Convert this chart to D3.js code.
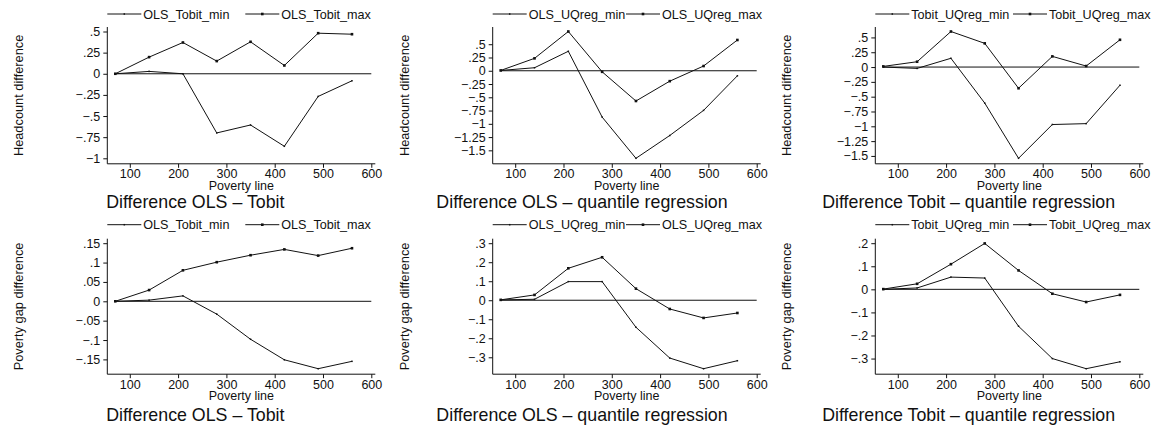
<!DOCTYPE html>
<html>
<head>
<meta charset="utf-8">
<script src="https://cdnjs.cloudflare.com/ajax/libs/d3/7.8.5/d3.min.js"></script>
<style>
  body { margin: 0; background: #fff; }
  svg { display: block; font-family: "Liberation Sans", Arial, sans-serif; }
</style>
</head>
<body>
<div id="chart"></div>
<script>
// poverty lines on the x axis
var povertyLines = [70, 140, 210, 280, 350, 420, 490, 560];
var xTicks = [100, 200, 300, 400, 500, 600];

// headcount differences
var hcOlsTobitMin   = [0, 0.028, 0.0, -0.70, -0.606, -0.858, -0.268, -0.083];
var hcOlsTobitMax   = [0, 0.197, 0.37, 0.15, 0.378, 0.098, 0.48, 0.468];
var hcOlsUqregMin   = [0.006, 0.057, 0.367, -0.873, -1.65, -1.22, -0.747, -0.095];
var hcOlsUqregMax   = [0.006, 0.234, 0.74, -0.02, -0.57, -0.196, 0.089, 0.58];
var hcTobitUqregMin = [0, -0.023, 0.148, -0.608, -1.54, -0.97, -0.955, -0.307];
var hcTobitUqregMax = [0.011, 0.09, 0.60, 0.40, -0.358, 0.18, 0.017, 0.46];

// poverty gap differences
var pgOlsTobitMin   = [0, 0.003, 0.014, -0.033, -0.098, -0.151, -0.174, -0.155];
var pgOlsTobitMax   = [0, 0.029, 0.080, 0.101, 0.119, 0.134, 0.118, 0.137];
var pgOlsUqregMin   = [0.002, 0.005, 0.098, 0.098, -0.142, -0.304, -0.36, -0.318];
var pgOlsUqregMax   = [0.002, 0.028, 0.168, 0.226, 0.061, -0.046, -0.093, -0.067];
var pgTobitUqregMin = [0, 0.006, 0.053, 0.049, -0.16, -0.30, -0.344, -0.314];
var pgTobitUqregMax = [0.001, 0.024, 0.109, 0.199, 0.082, -0.019, -0.055, -0.024];

// y tick values
var hcTicksA = [0.5, 0.25, 0, -0.25, -0.5, -0.75, -1];
var hcTicksB = [0.5, 0.25, 0, -0.25, -0.5, -0.75, -1, -1.25, -1.5];
var pgTicksA = [0.15, 0.1, 0.05, 0, -0.05, -0.1, -0.15];
var pgTicksB = [0.3, 0.2, 0.1, 0, -0.1, -0.2, -0.3];
var pgTicksC = [0.2, 0.1, 0, -0.1, -0.2, -0.3];

var subtitles = ["Difference OLS \u2013 Tobit", "Difference OLS \u2013 quantile regression", "Difference Tobit \u2013 quantile regression"];
var legendNames = [["OLS_Tobit_min", "OLS_Tobit_max"], ["OLS_UQreg_min", "OLS_UQreg_max"], ["Tobit_UQreg_min", "Tobit_UQreg_max"]];
var yTitles = ["Headcount difference", "Poverty gap difference"];

var panels = [
  { row: 0, col: 0, min: hcOlsTobitMin,   max: hcOlsTobitMax,   ticks: hcTicksA },
  { row: 0, col: 1, min: hcOlsUqregMin,   max: hcOlsUqregMax,   ticks: hcTicksB },
  { row: 0, col: 2, min: hcTobitUqregMin, max: hcTobitUqregMax, ticks: hcTicksB },
  { row: 1, col: 0, min: pgOlsTobitMin,   max: pgOlsTobitMax,   ticks: pgTicksA },
  { row: 1, col: 1, min: pgOlsUqregMin,   max: pgOlsUqregMax,   ticks: pgTicksB },
  { row: 1, col: 2, min: pgTobitUqregMin, max: pgTobitUqregMax, ticks: pgTicksC }
];

// layout
var width = 1160, height = 428;
var cellW = width / 3;
var axisX = [107.3, 492.7, 875.3];      // y axis position of each column
var yTitleX = [18.5, 404.3, 787];
var legend2 = [138, 133.3, 137.7];     // offset of the 2nd legend key
var rows = [
  { top: 31.5,  bottom: 158.3, legendY: 14,    xTitleY: 189.5, subY: 208.3 },
  { top: 243.2, bottom: 368.7, legendY: 224.7, xTitleY: 400.3, subY: 420.5 }
];

// stata style numbers: .5, -.25, 0
function fmt(v) {
  var s = String(Math.abs(+v.toFixed(4))).replace(/^0\./, ".");
  return (v < 0 ? "\u2212" : "") + s;
}

var svg = d3.select("#chart").append("svg")
  .attr("width", width)
  .attr("height", height);

var ink = "#111";

panels.forEach(function(p) {
  var r = rows[p.row], ax = axisX[p.col];
  var g = svg.append("g");

  var x = d3.scaleLinear()
    .domain([70, 600])
    .range([ax + 8, ax + 264]);

  var ext = d3.extent(p.min.concat(p.max, p.ticks));
  var y = d3.scaleLinear()
    .domain(ext)
    .range([r.bottom, r.top]);

  var axTop = r.top - 4.5, axBottom = r.bottom + 5.5;

  // y axis
  var yAxis = g.append("g")
    .attr("transform", "translate(" + ax + ",0)")
    .call(d3.axisLeft(y).tickValues(p.ticks).tickFormat(fmt).tickSize(4).tickPadding(3));
  yAxis.select(".domain").remove();
  yAxis.selectAll("line").attr("stroke", ink);
  yAxis.selectAll("text").attr("font-size", 12.5).attr("fill", ink)
    .attr("font-family", "Liberation Sans, Arial, sans-serif");
  g.append("line")
    .attr("x1", ax).attr("x2", ax)
    .attr("y1", axTop).attr("y2", axBottom)
    .attr("stroke", ink);

  // x axis
  var xAxis = g.append("g")
    .attr("transform", "translate(0," + axBottom + ")")
    .call(d3.axisBottom(x).tickValues(xTicks).tickSize(4).tickPadding(1.5));
  xAxis.select(".domain").remove();
  xAxis.selectAll("line").attr("stroke", ink);
  xAxis.selectAll("text").attr("font-size", 12.5).attr("fill", ink)
    .attr("font-family", "Liberation Sans, Arial, sans-serif");
  g.append("line")
    .attr("x1", ax).attr("x2", x(600) + 4)
    .attr("y1", axBottom).attr("y2", axBottom)
    .attr("stroke", ink);

  // zero line
  g.append("line")
    .attr("x1", x(70)).attr("x2", x(600))
    .attr("y1", y(0)).attr("y2", y(0))
    .attr("stroke", ink).attr("stroke-width", 1);

  var line = d3.line()
    .x(function(d, i) { return x(povertyLines[i]); })
    .y(function(d) { return y(d); });

  [p.min, p.max].forEach(function(s, k) {
    g.append("path")
      .datum(s)
      .attr("d", line)
      .attr("fill", "none")
      .attr("stroke", ink)
      .attr("stroke-width", 1);
    var sz = k === 0 ? 1.5 : 2.6;
    g.selectAll(null)
      .data(s)
      .enter()
      .append("rect")
        .attr("x", function(d, i) { return x(povertyLines[i]) - sz / 2; })
        .attr("y", function(d) { return y(d) - sz / 2; })
        .attr("width", sz)
        .attr("height", sz)
        .attr("fill", ink);
  });

  // legend
  legendNames[p.col].forEach(function(name, k) {
    var lx = ax + (k === 0 ? 0 : legend2[p.col]);
    var sz = k === 0 ? 1.5 : 2.6;
    g.append("line")
      .attr("x1", lx).attr("x2", lx + 34)
      .attr("y1", r.legendY).attr("y2", r.legendY)
      .attr("stroke", ink);
    g.append("rect")
      .attr("x", lx + 17 - sz / 2).attr("y", r.legendY - sz / 2)
      .attr("width", sz).attr("height", sz)
      .attr("fill", ink);
    g.append("text")
      .attr("x", lx + 36).attr("y", r.legendY + 4.5)
      .attr("font-size", 12.6).attr("fill", ink)
      .text(name);
  });

  // titles
  g.append("text")
    .attr("x", (ax + x(600) + 4) / 2).attr("y", r.xTitleY)
    .attr("text-anchor", "middle")
    .attr("font-size", 12.5).attr("fill", ink)
    .text("Poverty line");

  g.append("text")
    .attr("x", p.col * cellW + cellW / 2 + 2).attr("y", r.subY)
    .attr("text-anchor", "middle")
    .attr("font-size", 17.8).attr("fill", ink)
    .text(subtitles[p.col]);

  g.append("text")
    .attr("transform", "translate(" + yTitleX[p.col] + "," + ((axTop + axBottom) / 2) + ") rotate(-90)")
    .attr("text-anchor", "middle")
    .attr("dy", "0.35em")
    .attr("font-size", 12.8).attr("fill", ink)
    .text(yTitles[p.row]);
});
</script>
</body>
</html>
